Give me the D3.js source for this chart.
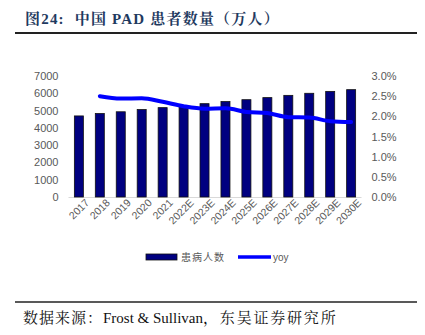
<!DOCTYPE html>
<html><head><meta charset="utf-8">
<script src="https://cdn.jsdelivr.net/npm/d3@7"></script>
<style>body{margin:0;background:#fff;}svg{display:block;}text{white-space:pre;}</style>
</head><body>
<svg id="c" width="425" height="335"></svg>
<script>
const categories = ["2017","2018","2019","2020","2021","2022E","2023E","2024E","2025E","2026E","2027E","2028E","2029E","2030E"];
const patients = [4690,4830,4930,5060,5170,5270,5400,5520,5630,5750,5880,6000,6110,6210];
const yoy = [null,2.50,2.44,2.45,2.36,2.25,2.19,2.20,2.11,2.08,1.98,1.97,1.88,1.86];
const leftTicks = [0,1000,2000,3000,4000,5000,6000,7000];
const rightTicks = [0,0.5,1.0,1.5,2.0,2.5,3.0];
const seriesNames = ["患病人数","yoy"];
const titleText = "图24:  中国 PAD 患者数量（万人）";
const sourceParts = ["数据来源：","Frost & Sullivan","，东吴证券研究所"];

const svg = d3.select("#c");
const L = 68.5, R = 361.5, T = 76, B = 197;
const x = d3.scaleBand().domain(categories).range([L,R]).paddingInner(0.57).paddingOuter(0.28);
const y = d3.scaleLinear().domain([0,7000]).range([B,T]);
const y2 = d3.scaleLinear().domain([0,3.0]).range([B,T]);
const grey = "#595959";
const serif = "'Liberation Serif','Noto Serif CJK SC','Noto Sans CJK SC',serif";

// title
svg.append("text").attr("x",25).attr("y",24).attr("font-family",serif)
  .attr("font-weight","bold").attr("font-size",15).attr("letter-spacing",1.2).attr("fill","#1F3A60").text(titleText);
svg.append("line").attr("x1",15).attr("x2",417).attr("y1",33).attr("y2",33).attr("stroke","#222").attr("stroke-width",2);

// baseline
svg.append("line").attr("x1",L).attr("x2",R).attr("y1",B+0.5).attr("y2",B+0.5).attr("stroke","#d9d9d9").attr("stroke-width",1);

// left axis
const la = svg.append("g").attr("transform",`translate(${L},0)`).call(d3.axisLeft(y).tickValues(leftTicks).tickSize(0).tickPadding(10).tickFormat(d3.format("d")));
la.select(".domain").remove();
la.selectAll("text").attr("font-family","Arial, 'Liberation Sans', sans-serif").attr("font-size",11).attr("fill",grey);

// right axis
const ra = svg.append("g").attr("transform",`translate(${R},0)`).call(d3.axisRight(y2).tickValues(rightTicks).tickSize(0).tickPadding(10).tickFormat(d=>d.toFixed(1)+"%"));
ra.select(".domain").remove();
ra.selectAll("text").attr("font-family","Arial, 'Liberation Sans', sans-serif").attr("font-size",11).attr("fill",grey);

// bars
svg.append("g").selectAll("rect").data(categories).join("rect")
  .attr("x",d=>x(d)).attr("width",x.bandwidth())
  .attr("y",(d,i)=>y(patients[i])).attr("height",(d,i)=>B-y(patients[i]))
  .attr("fill","#000080").attr("stroke","#111").attr("stroke-width",0.8);

// x labels
const xa = svg.append("g").attr("transform",`translate(0,${B})`).call(d3.axisBottom(x).tickSize(0).tickPadding(6));
xa.select(".domain").remove();
xa.selectAll("text").attr("font-family","Arial, 'Liberation Sans', sans-serif").attr("font-size",10.5).attr("fill",grey)
  .attr("text-anchor","end").attr("dx","0.3em").attr("dy","0.6em").attr("transform","rotate(-45)");

// yoy line
const pts = categories.map((c,i)=>[x(c)+x.bandwidth()/2, yoy[i]]).filter(p=>p[1]!=null);
svg.append("path").datum(pts)
  .attr("d",d3.line().x(p=>p[0]).y(p=>y2(p[1])).curve(d3.curveMonotoneX))
  .attr("fill","none").attr("stroke","#0000FF").attr("stroke-width",4).attr("stroke-linecap","round");

// legend
const lg = svg.append("g");
lg.append("rect").attr("x",146).attr("y",254).attr("width",31).attr("height",6).attr("fill","#000080").attr("stroke","#111").attr("stroke-width",0.8);
lg.append("text").attr("x",181).attr("y",261).attr("font-family","'Noto Sans CJK SC',sans-serif").attr("font-size",10).attr("letter-spacing",1).attr("fill",grey).text(seriesNames[0]);
lg.append("line").attr("x1",238).attr("x2",271).attr("y1",257).attr("y2",257).attr("stroke","#0000FF").attr("stroke-width",3.5);
lg.append("text").attr("x",273).attr("y",260.5).attr("font-family","Arial, 'Liberation Sans', sans-serif").attr("font-size",10).attr("fill",grey).text(seriesNames[1]);

// footer
svg.append("line").attr("x1",15).attr("x2",417).attr("y1",302).attr("y2",302).attr("stroke","#222").attr("stroke-width",1.5);
const ft = svg.append("text").attr("x",23).attr("y",323).attr("font-family",serif).attr("font-size",15).attr("fill","#111");
ft.append("tspan").attr("letter-spacing",1).text(sourceParts[0]);
ft.append("tspan").text(sourceParts[1]);
ft.append("tspan").attr("letter-spacing",1.8).text(sourceParts[2]);
</script>
</body></html>
